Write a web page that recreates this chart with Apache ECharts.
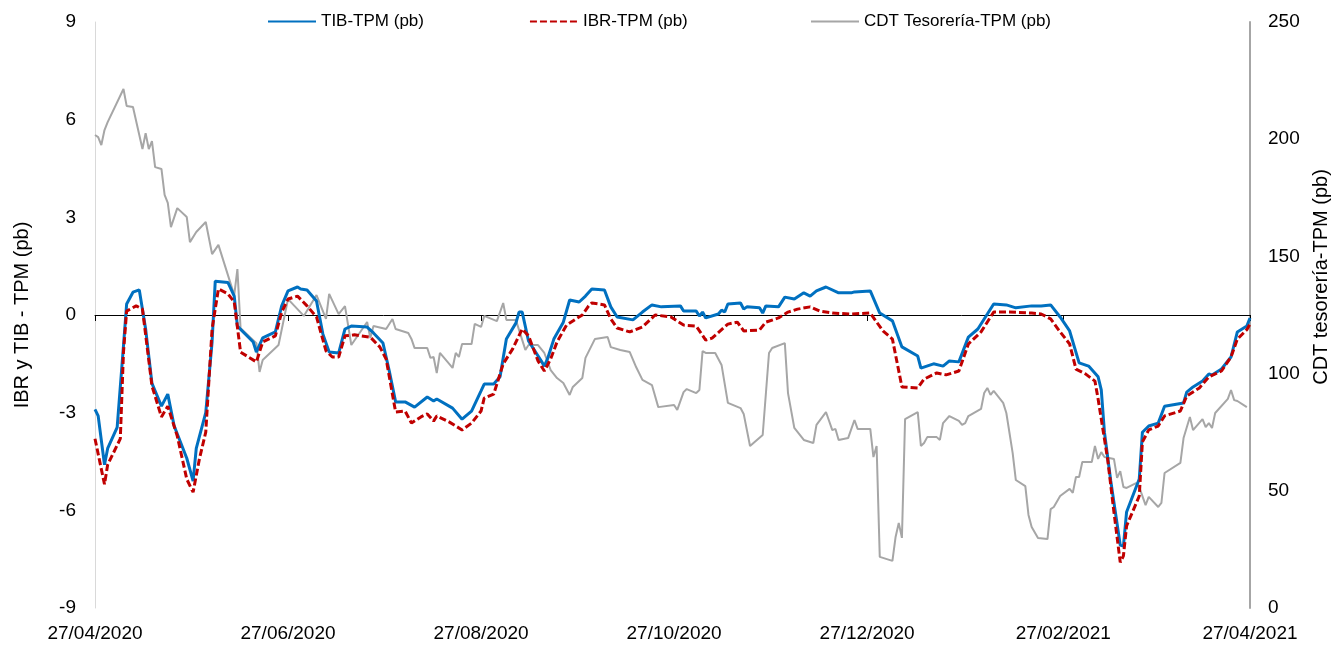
<!DOCTYPE html>
<html>
<head>
<meta charset="utf-8">
<title>TIB, IBR y CDT frente a la TPM</title>
<script src="https://cdn.jsdelivr.net/npm/echarts@6/dist/echarts.min.js"></script>
<style>
  html, body { margin: 0; padding: 0; background: #fff; }
  #chart { width: 1343px; height: 646px; }
</style>
</head>
<body>
<div id="chart"></div>
<script>
// --- eje X: días desde 27/04/2020 ---
const tickDays = [0, 61, 122, 183, 244, 306, 365];
const tickLabels = ['27/04/2020', '27/06/2020', '27/08/2020', '27/10/2020', '27/12/2020', '27/02/2021', '27/04/2021'];

// --- TIB-TPM (pb), eje izquierdo ---
const tibDays = [0,1,3,4,7,9,10,12,14,16,18,21,23,25,29,31,32,35,37,38,42,44,45,50,51,53,57,59,61,64,65,67,70,72,74,77,79,81,86,88,91,93,95,98,101,105,107,108,113,116,119,122,123,126,128,130,133,134,135,137,141,142,143,145,148,150,153,155,157,161,163,165,170,173,176,179,185,186,190,191,192,193,197,198,199,200,204,205,206,210,211,212,216,218,221,224,226,228,231,235,239,240,245,248,252,255,260,261,265,268,270,273,276,279,282,284,288,291,296,299,302,305,308,311,314,317,318,319,321,324,325,326,330,331,333,336,338,344,345,347,350,352,353,356,359,361,364,365];
const tibValues = [-2.9,-3.1,-4.6,-4.1,-3.45,-0.95,0.34,0.7,0.77,-0.43,-2.1,-2.8,-2.43,-3.4,-4.4,-5.1,-4.1,-3.0,-0.83,1.04,1.0,0.58,-0.34,-0.83,-1.14,-0.7,-0.52,0.28,0.74,0.86,0.8,0.77,0.43,-0.58,-1.14,-1.17,-0.43,-0.34,-0.37,-0.55,-0.86,-1.72,-2.67,-2.67,-2.83,-2.52,-2.64,-2.58,-2.86,-3.2,-2.95,-2.33,-2.12,-2.12,-1.9,-0.74,-0.25,0.09,0.09,-0.8,-1.41,-1.57,-1.35,-0.74,-0.22,0.46,0.4,0.58,0.8,0.77,0.25,-0.06,-0.15,0.09,0.31,0.25,0.28,0.12,0.12,-0.03,0.09,-0.09,0.03,0.15,0.09,0.34,0.37,0.18,0.25,0.22,0.06,0.28,0.25,0.55,0.49,0.68,0.58,0.74,0.86,0.68,0.68,0.71,0.74,0.06,-0.18,-0.98,-1.26,-1.63,-1.5,-1.57,-1.41,-1.44,-0.68,-0.43,0.03,0.34,0.31,0.22,0.28,0.28,0.31,-0.06,-0.49,-1.47,-1.57,-1.9,-2.3,-3.6,-5.1,-7.07,-7.1,-6.05,-5.04,-3.6,-3.41,-3.32,-2.8,-2.7,-2.37,-2.21,-2.03,-1.81,-1.84,-1.66,-1.29,-0.52,-0.34,-0.09];

// --- IBR-TPM (pb), eje izquierdo ---
const ibrDays = [0,3,4,8,9,10,13,15,18,21,23,26,29,31,33,35,37,39,42,44,46,51,53,57,59,61,64,67,70,73,75,77,79,82,87,90,92,95,98,100,103,105,107,108,112,116,119,122,123,126,129,132,135,137,140,142,144,146,149,152,154,156,157,161,163,165,169,173,177,182,186,190,193,195,200,203,205,210,212,216,219,222,226,229,233,239,245,249,252,255,260,262,266,269,273,276,280,284,289,296,299,302,305,308,310,313,316,317,320,322,324,325,326,330,331,333,336,338,343,345,349,352,356,359,361,364,365];
const ibrValues = [-3.8,-5.2,-4.6,-3.8,-1.14,0.12,0.28,0.18,-2.18,-3.13,-2.8,-3.72,-5.04,-5.44,-4.42,-3.6,-0.43,0.8,0.65,0.4,-1.14,-1.44,-0.83,-0.64,0.09,0.49,0.58,0.28,-0.06,-1.1,-1.29,-1.29,-0.64,-0.61,-0.68,-0.98,-1.35,-2.98,-2.95,-3.32,-3.13,-3.04,-3.26,-3.1,-3.29,-3.53,-3.32,-2.95,-2.55,-2.43,-1.5,-1.04,-0.43,-0.64,-1.41,-1.72,-1.35,-0.83,-0.31,-0.12,0,0.28,0.37,0.31,-0.12,-0.4,-0.52,-0.37,0,-0.06,-0.31,-0.34,-0.77,-0.71,-0.28,-0.22,-0.49,-0.46,-0.22,-0.09,0.09,0.18,0.25,0.12,0.06,0.03,0.06,-0.49,-0.74,-2.21,-2.24,-1.97,-1.78,-1.84,-1.72,-0.89,-0.52,0.09,0.09,0.06,0.03,-0.12,-0.52,-0.89,-1.66,-1.81,-2.03,-2.58,-4.42,-6.05,-7.6,-7.4,-6.48,-5.56,-3.9,-3.53,-3.41,-3.1,-2.95,-2.49,-2.24,-1.9,-1.72,-1.29,-0.74,-0.45,-0.28];

// --- CDT Tesorería-TPM (pb), eje derecho ---
const cdtDays = [0,1,2,3,4,9,10,12,15,16,17,18,19,21,22,23,24,26,29,30,32,35,37,39,44,45,46,51,52,53,58,61,66,70,73,74,77,79,81,86,87,88,92,94,95,99,100,101,105,106,107,108,109,113,114,115,116,119,120,122,123,127,129,130,133,136,137,140,142,144,146,148,150,151,154,155,158,162,163,166,169,171,173,176,178,183,184,186,187,190,191,192,193,196,198,200,204,205,207,211,213,214,218,219,221,224,227,228,231,233,234,235,238,240,241,245,246,247,248,252,253,254,255,256,260,261,262,263,266,267,268,270,273,274,275,276,280,281,282,283,284,287,288,290,291,294,295,296,298,301,302,303,305,308,309,310,311,312,315,316,317,318,319,322,323,324,325,326,329,330,332,333,336,337,338,343,344,346,347,350,351,352,353,354,358,359,360,361,364];
const cdtValues = [201.8,200.9,197.5,203.9,207.3,221.4,214.2,213.7,195.8,202.6,195.8,199.2,188.1,187.3,176.2,172.8,162.5,170.6,166.8,156.1,160.4,164.7,151,154.9,133.5,144.6,119.4,113,100.7,105.8,112.2,131.8,124.6,133.5,123.3,134,125.4,128.8,112.2,122,115.2,120.3,119,123.3,119,117.3,114.8,110.9,110.9,106.7,107.1,100.2,108.8,102.4,108.8,107.1,112.6,112.6,121.2,119.9,124.6,122.4,130.1,122.9,122.9,110.1,112.2,112.2,108.8,101.5,98.1,96,90.9,94.3,98.1,106.7,114.8,115.6,111.3,110.1,109.2,102.8,97.3,95.1,85.7,86.6,84.5,92.1,93.4,91.7,93,109.6,108.8,108.8,103.7,87.5,85.3,82.8,69.1,73.8,108.8,110.9,113,91.7,76.8,71.7,70.4,78.1,83.6,75.9,76.4,71.7,72.5,80.2,76.4,76.4,64.4,69.1,21.8,20.1,30.3,36.3,29.9,80.6,83.6,69.1,70.4,72.9,72.9,71.7,78.9,81.9,79.8,78.1,78.9,81.9,84.9,91.7,93.9,90.9,92.6,87.5,83.2,66.1,54.6,52,39.7,34.6,29.9,29.4,42.2,43.1,47.8,50.8,49.1,55.9,55.9,62.3,62.3,69.1,63.6,66.5,64.4,63.6,55.5,58.4,51.6,51.2,53.3,51.6,43.9,47.4,43.1,44.8,57.6,61.9,72.5,81.5,75.9,80.6,77.2,78.9,76.8,83.2,89.2,93,88.7,88.3,85.7];

const pairs = (days, vals) => days.map((d, i) => [d, vals[i]]);

const chart = echarts.init(document.getElementById('chart'));
const font = 'Liberation Sans, Arial, sans-serif';

// leyenda: itemHeight mínimo para que sólo se vea la línea
const legendBase = {
  top: 8,
  itemWidth: 48,
  itemHeight: 1,
  itemGap: 105,
  textStyle: { fontSize: 17, color: '#000', fontFamily: font }
};

chart.setOption({
  animation: false,
  textStyle: { fontFamily: font },
  legend: [
    Object.assign({ left: 262, data: ['TIB-TPM (pb)', 'IBR-TPM (pb)'] }, legendBase),
    Object.assign({ left: 805, data: ['CDT Tesorería-TPM (pb)'] }, legendBase)
  ],
  grid: { left: 95, right: 93, top: 22, bottom: 38 },
  xAxis: [
    {
      // etiquetas abajo
      type: 'value',
      min: 0,
      max: 365,
      position: 'bottom',
      axisLine: { show: false, onZero: false },
      axisTick: { show: false },
      splitLine: { show: false },
      axisLabel: {
        customValues: tickDays,
        margin: 16,
        fontSize: 19,
        color: '#000',
        fontFamily: font,
        formatter: v => tickLabels[tickDays.indexOf(v)] || ''
      }
    },
    {
      // línea en cero con marcas
      type: 'value',
      min: 0,
      max: 365,
      position: 'top',
      axisLine: { show: true, onZero: true, onZeroAxisIndex: 0, lineStyle: { color: '#000', width: 1 } },
      axisTick: { show: true, inside: true, length: 6, customValues: tickDays, lineStyle: { color: '#000' } },
      axisLabel: { show: false },
      splitLine: { show: false }
    }
  ],
  yAxis: [
    {
      type: 'value',
      min: -9,
      max: 9,
      interval: 3,
      position: 'left',
      name: 'IBR y TIB - TPM (pb)',
      nameLocation: 'middle',
      nameRotate: 90,
      nameGap: 63,
      nameTextStyle: { fontSize: 20, color: '#000', fontFamily: font },
      axisLine: { show: true, onZero: false, lineStyle: { color: '#d9d9d9', width: 1 } },
      axisTick: { show: false },
      splitLine: { show: false },
      axisLabel: { margin: 19, fontSize: 19, color: '#000', fontFamily: font }
    },
    {
      type: 'value',
      min: 0,
      max: 250,
      interval: 50,
      position: 'right',
      name: 'CDT tesorería-TPM (pb)',
      nameLocation: 'middle',
      nameRotate: 90,
      nameGap: 61,
      // el título derecho está algo desplazado hacia arriba
      nameTextStyle: { fontSize: 20, color: '#000', fontFamily: font, padding: [0, 0, 0, 76] },
      axisLine: { show: true, onZero: false, lineStyle: { color: '#a6a6a6', width: 2 } },
      axisTick: { show: false },
      splitLine: { show: false },
      axisLabel: { margin: 18, fontSize: 19, color: '#000', fontFamily: font }
    }
  ],
  series: [
    {
      name: 'CDT Tesorería-TPM (pb)',
      type: 'line',
      yAxisIndex: 1,
      symbol: 'none',
      data: pairs(cdtDays, cdtValues),
      lineStyle: { color: '#a6a6a6', width: 2 },
      itemStyle: { color: '#a6a6a6' },
      z: 1
    },
    {
      name: 'TIB-TPM (pb)',
      type: 'line',
      symbol: 'none',
      data: pairs(tibDays, tibValues),
      lineStyle: { color: '#0070c0', width: 3 },
      itemStyle: { color: '#0070c0' },
      z: 2
    },
    {
      name: 'IBR-TPM (pb)',
      type: 'line',
      symbol: 'none',
      data: pairs(ibrDays, ibrValues),
      lineStyle: { color: '#c00000', width: 3, type: [7, 3] },
      itemStyle: { color: '#c00000' },
      z: 3
    }
  ]
});
</script>
</body>
</html>
